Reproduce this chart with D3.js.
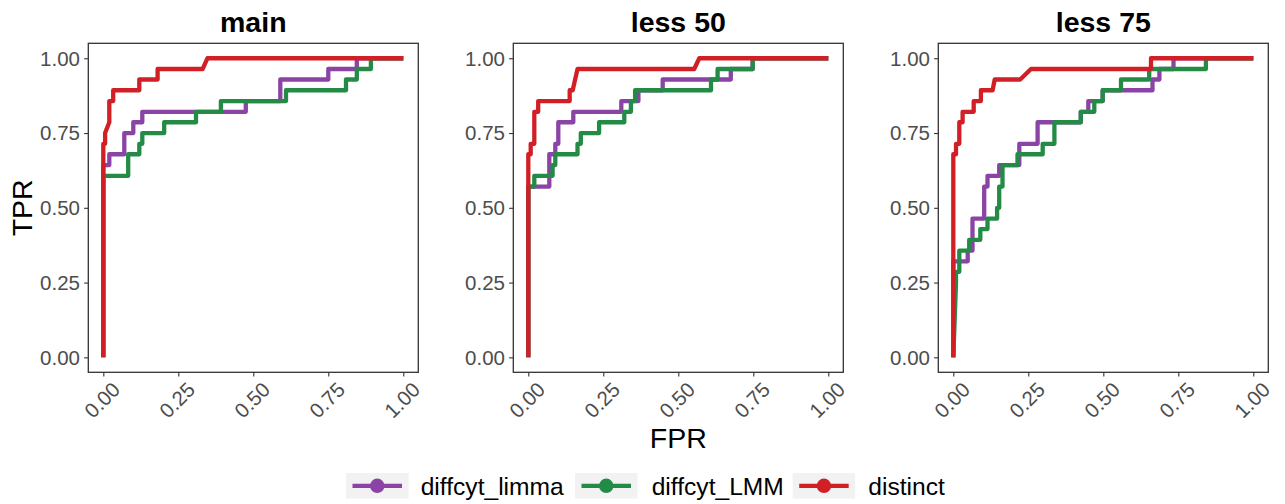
<!DOCTYPE html>
<html>
<head>
<meta charset="utf-8">
<script src="https://cdn.jsdelivr.net/npm/d3@7"></script>
<style>
  html, body { margin: 0; padding: 0; background: #fff; }
  svg { display: block; }
  text { font-family: "Liberation Sans", Arial, Helvetica, sans-serif; }
</style>
</head>
<body>
<svg id="chart" width="1285" height="504"></svg>
<script>
// ---------------- data ----------------
const panelTitles = ["main", "less 50", "less 75"];
const methods = ["diffcyt_limma", "diffcyt_LMM", "distinct"];
const methodColors = ["#8b44a5", "#238b45", "#d11f25"];
const tickValues = [0, 0.25, 0.5, 0.75, 1];
const tickLabels = ["0.00", "0.25", "0.50", "0.75", "1.00"];

// panel "main"
const fprMainLimma = [0, 0, 0.02, 0.02, 0.07, 0.07, 0.1, 0.1, 0.13, 0.13, 0.475, 0.475, 0.59, 0.59, 0.75, 0.75, 0.845, 0.845, 1];
const tprMainLimma = [0, 0.643, 0.643, 0.679, 0.679, 0.75, 0.75, 0.786, 0.786, 0.821, 0.821, 0.857, 0.857, 0.929, 0.929, 0.964, 0.964, 1, 1];
const fprMainLMM = [0, 0, 0.083, 0.083, 0.12, 0.12, 0.13, 0.13, 0.203, 0.203, 0.309, 0.309, 0.392, 0.392, 0.609, 0.609, 0.809, 0.809, 0.845, 0.845, 0.892, 0.892, 1];
const tprMainLMM = [0, 0.607, 0.607, 0.679, 0.679, 0.714, 0.714, 0.75, 0.75, 0.786, 0.786, 0.821, 0.821, 0.857, 0.857, 0.893, 0.893, 0.929, 0.929, 0.964, 0.964, 1, 1];
const fprMainDistinct = [0, 0, 0.006, 0.006, 0.02, 0.02, 0.033, 0.033, 0.12, 0.12, 0.181, 0.181, 0.331, 0.347, 1];
const tprMainDistinct = [0, 0.714, 0.714, 0.75, 0.786, 0.857, 0.857, 0.893, 0.893, 0.929, 0.929, 0.964, 0.964, 1, 1];

// panel "less 50"
const fpr50Limma = [0, 0, 0.07, 0.07, 0.09, 0.09, 0.1, 0.1, 0.15, 0.15, 0.31, 0.31, 0.367, 0.367, 0.448, 0.448, 0.675, 0.675, 0.748, 0.748, 1];
const tpr50Limma = [0, 0.571, 0.571, 0.679, 0.679, 0.714, 0.714, 0.786, 0.786, 0.821, 0.821, 0.857, 0.857, 0.893, 0.893, 0.929, 0.929, 0.964, 0.964, 1, 1];
const fpr50LMM = [0, 0, 0.02, 0.02, 0.081, 0.081, 0.09, 0.09, 0.164, 0.164, 0.175, 0.175, 0.236, 0.236, 0.32, 0.32, 0.342, 0.342, 0.356, 0.356, 0.609, 0.609, 0.631, 0.631, 0.748, 0.748, 1];
const tpr50LMM = [0, 0.571, 0.571, 0.607, 0.607, 0.643, 0.643, 0.679, 0.679, 0.714, 0.714, 0.75, 0.75, 0.786, 0.786, 0.821, 0.821, 0.857, 0.857, 0.893, 0.893, 0.929, 0.929, 0.964, 0.964, 1, 1];
const fpr50Distinct = [0, 0, 0.008, 0.008, 0.02, 0.02, 0.033, 0.033, 0.138, 0.138, 0.148, 0.164, 0.553, 0.57, 1];
const tpr50Distinct = [0, 0.679, 0.679, 0.714, 0.714, 0.821, 0.821, 0.857, 0.857, 0.893, 0.893, 0.964, 0.964, 1, 1];

// panel "less 75"
const fpr75Limma = [0, 0, 0.048, 0.048, 0.064, 0.064, 0.103, 0.103, 0.114, 0.114, 0.153, 0.153, 0.22, 0.22, 0.281, 0.281, 0.425, 0.425, 0.45, 0.45, 0.498, 0.498, 0.664, 0.664, 0.687, 0.687, 0.734, 0.734, 1];
const tpr75Limma = [0, 0.321, 0.321, 0.357, 0.357, 0.464, 0.464, 0.571, 0.571, 0.607, 0.607, 0.643, 0.643, 0.714, 0.714, 0.786, 0.786, 0.821, 0.821, 0.857, 0.857, 0.893, 0.893, 0.929, 0.929, 0.964, 0.964, 1, 1];
const fpr75LMM = [0, 0.009, 0.009, 0.02, 0.02, 0.053, 0.053, 0.09, 0.09, 0.114, 0.114, 0.146, 0.146, 0.153, 0.153, 0.164, 0.164, 0.214, 0.214, 0.298, 0.298, 0.337, 0.337, 0.425, 0.425, 0.47, 0.47, 0.498, 0.498, 0.559, 0.559, 0.653, 0.653, 0.842, 0.842, 1];
const tpr75LMM = [0, 0.25, 0.286, 0.286, 0.357, 0.357, 0.393, 0.393, 0.429, 0.429, 0.464, 0.464, 0.5, 0.5, 0.571, 0.571, 0.643, 0.643, 0.679, 0.679, 0.714, 0.714, 0.786, 0.786, 0.821, 0.821, 0.857, 0.857, 0.893, 0.893, 0.929, 0.929, 0.964, 0.964, 1, 1];
const fpr75Distinct = [0, 0, 0.009, 0.009, 0.02, 0.02, 0.031, 0.031, 0.068, 0.068, 0.092, 0.092, 0.131, 0.138, 0.223, 0.259, 0.659, 0.659, 1];
const tpr75Distinct = [0, 0.679, 0.679, 0.714, 0.714, 0.786, 0.786, 0.821, 0.821, 0.857, 0.857, 0.893, 0.893, 0.929, 0.929, 0.964, 0.964, 1, 1];

const panelData = [
  [[fprMainLimma, tprMainLimma], [fprMainLMM, tprMainLMM], [fprMainDistinct, tprMainDistinct]],
  [[fpr50Limma, tpr50Limma], [fpr50LMM, tpr50LMM], [fpr50Distinct, tpr50Distinct]],
  [[fpr75Limma, tpr75Limma], [fpr75LMM, tpr75LMM], [fpr75Distinct, tpr75Distinct]]
];

// ---------------- layout ----------------
const svg = d3.select("#chart");
const panelLeft = [88.3, 513.3, 938.3];
const panelW = 330, panelTop = 43.3, panelBottom = 372.3;
const borderColor = "#333333";
const labelColor = "#4d4d4d";

const y = d3.scaleLinear().domain([-0.05, 1.05]).range([panelBottom, panelTop]);

panelData.forEach((series, p) => {
  const x0 = panelLeft[p];
  const x = d3.scaleLinear().domain([-0.05, 1.05]).range([x0, x0 + panelW]);
  const g = svg.append("g");

  const clipId = "clip" + p;
  svg.append("clipPath").attr("id", clipId)
    .append("rect").attr("x", x0).attr("y", panelTop).attr("width", panelW).attr("height", panelBottom - panelTop);

  g.append("text")
    .attr("x", x0 + panelW / 2).attr("y", 31.5)
    .attr("text-anchor", "middle")
    .attr("font-size", 28.5).attr("font-weight", "bold").attr("fill", "#000")
    .text(panelTitles[p]);

  const xAxis = d3.axisBottom(x).tickValues(tickValues).tickSize(4.2).tickFormat("");
  const xg = g.append("g").attr("transform", `translate(0,${panelBottom})`).call(xAxis);
  xg.select(".domain").remove();
  xg.selectAll("line").attr("stroke", borderColor).attr("stroke-width", 1.1);
  tickValues.forEach((v, i) => {
    g.append("text")
      .attr("transform", `translate(${x(v) + 18},${391}) rotate(-45)`)
      .attr("text-anchor", "end")
      .attr("font-size", 20.5).attr("fill", labelColor)
      .text(tickLabels[i]);
  });

  const yAxis = d3.axisLeft(y).tickValues(tickValues).tickSize(4.2).tickFormat("");
  const yg = g.append("g").attr("transform", `translate(${x0},0)`).call(yAxis);
  yg.select(".domain").remove();
  yg.selectAll("line").attr("stroke", borderColor).attr("stroke-width", 1.1);
  tickValues.forEach((v, i) => {
    g.append("text")
      .attr("x", x0 - 8.3).attr("y", y(v))
      .attr("dy", "0.355em")
      .attr("text-anchor", "end")
      .attr("font-size", 20.5).attr("fill", labelColor)
      .text(tickLabels[i]);
  });

  const line = d3.line().x(d => x(d[0])).y(d => y(d[1]));
  const lg = g.append("g").attr("clip-path", `url(#${clipId})`);
  series.forEach((s, m) => {
    const pts = s[0].map((f, i) => [f, s[1][i]]);
    lg.append("path")
      .attr("d", line(pts))
      .attr("fill", "none")
      .attr("stroke", methodColors[m])
      .attr("stroke-width", 4.3)
      .attr("stroke-linejoin", "round")
      .attr("stroke-linecap", "butt");
  });

  g.append("rect")
    .attr("x", x0).attr("y", panelTop)
    .attr("width", panelW).attr("height", panelBottom - panelTop)
    .attr("fill", "none").attr("stroke", borderColor).attr("stroke-width", 1.3);
});

// axis titles
svg.append("text")
  .attr("transform", `translate(32,207.8) rotate(-90)`)
  .attr("text-anchor", "middle")
  .attr("font-size", 28.5).attr("fill", "#000")
  .text("TPR");
svg.append("text")
  .attr("x", 678.3).attr("y", 448)
  .attr("text-anchor", "middle")
  .attr("font-size", 28.5).attr("fill", "#000")
  .text("FPR");

// legend
const legendKeyX = [346, 575, 792.7];
const legendTextX = [420.7, 651.7, 868.3];
const legendY = 485.8;
const keyW = 62.5, keyH = 25.5;
methods.forEach((name, i) => {
  const lg = svg.append("g");
  lg.append("rect")
    .attr("x", legendKeyX[i]).attr("y", legendY - keyH / 2)
    .attr("width", keyW).attr("height", keyH)
    .attr("fill", "#f2f2f2");
  lg.append("line")
    .attr("x1", legendKeyX[i] + 6.5).attr("x2", legendKeyX[i] + keyW - 6.5)
    .attr("y1", legendY).attr("y2", legendY)
    .attr("stroke", methodColors[i]).attr("stroke-width", 4.3);
  lg.append("circle")
    .attr("cx", legendKeyX[i] + keyW / 2).attr("cy", legendY)
    .attr("r", 7.2).attr("fill", methodColors[i]);
  lg.append("text")
    .attr("x", legendTextX[i]).attr("y", legendY)
    .attr("dy", "0.355em")
    .attr("font-size", 24.6).attr("fill", "#000")
    .text(name);
});
</script>
</body>
</html>
